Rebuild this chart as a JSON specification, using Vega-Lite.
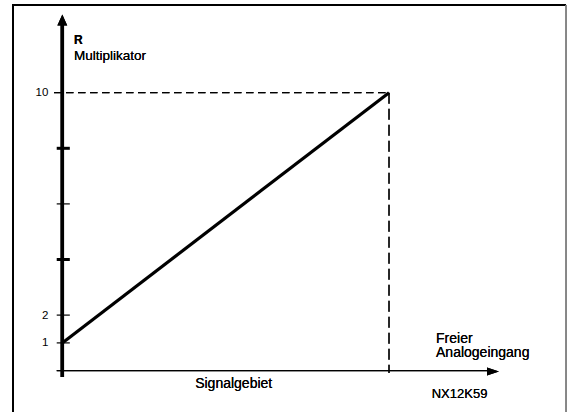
{
  "$schema": "https://vega.github.io/schema/vega-lite/v6.json",
  "width": 567,
  "height": 412,
  "padding": 0,
  "autosize": {"type": "none"},
  "background": "white",
  "config": {"view": {"stroke": null}, "text": {"font": "Liberation Sans", "color": "#000"}},
  "datasets": {
    "line": [{"signal": 0, "R": 1}, {"signal": 1, "R": 10}],
    "ticks": [{"R": 1, "major": false}, {"R": 2, "major": false}, {"R": 4, "major": true}, {"R": 6, "major": false}, {"R": 8, "major": true}],
    "ticklabels": [{"R": 10, "label": "10"}, {"R": 2, "label": "2"}, {"R": 1, "label": "1"}]
  },
  "data": {"name": "line"},
  "layer": [
    {
      "mark": {"type": "rule", "color": "#000", "strokeWidth": 2},
      "encoding": {
        "x": {"datum": -0.1509, "type": "quantitative", "scale": {"domain": [-0.1907, 1.5448], "nice": false, "zero": false}, "axis": null},
        "y": {"datum": -1.4856, "type": "quantitative", "scale": {"domain": [-1.4856, 13.3345], "nice": false, "zero": false}, "axis": null},
        "y2": {"datum": 13.19}
      }
    },
    {
      "mark": {"type": "rule", "color": "#000", "strokeWidth": 2},
      "encoding": {
        "x": {"datum": -0.1539, "type": "quantitative", "scale": {"domain": [-0.1907, 1.5448], "nice": false, "zero": false}, "axis": null},
        "x2": {"datum": 1.5418},
        "y": {"datum": 13.155, "type": "quantitative", "scale": {"domain": [-1.4856, 13.3345], "nice": false, "zero": false}, "axis": null}
      }
    },
    {
      "mark": {"type": "rule", "color": "#808080", "strokeWidth": 1.5},
      "encoding": {
        "x": {"datum": 1.5418, "type": "quantitative", "scale": {"domain": [-0.1907, 1.5448], "nice": false, "zero": false}, "axis": null},
        "y": {"datum": -1.4856, "type": "quantitative", "scale": {"domain": [-1.4856, 13.3345], "nice": false, "zero": false}, "axis": null},
        "y2": {"datum": 13.155}
      }
    },
    {
      "mark": {"type": "rule", "color": "#000", "strokeWidth": 1.2, "strokeDash": [7.5, 4.5]},
      "encoding": {
        "x": {"datum": -0.0254, "type": "quantitative", "scale": {"domain": [-0.1907, 1.5448], "nice": false, "zero": false}, "axis": null},
        "x2": {"datum": 1},
        "y": {"datum": 10, "type": "quantitative", "scale": {"domain": [-1.4856, 13.3345], "nice": false, "zero": false}, "axis": null}
      }
    },
    {
      "mark": {"type": "rule", "color": "#000", "strokeWidth": 1.2, "strokeDash": [11, 5]},
      "encoding": {
        "x": {"datum": 1, "type": "quantitative", "scale": {"domain": [-0.1907, 1.5448], "nice": false, "zero": false}, "axis": null},
        "y": {"datum": 10, "type": "quantitative", "scale": {"domain": [-1.4856, 13.3345], "nice": false, "zero": false}, "axis": null},
        "y2": {"datum": -0.083}
      }
    },
    {
      "mark": {"type": "line", "color": "#000", "strokeWidth": 3.2},
      "encoding": {
        "x": {"field": "signal", "type": "quantitative", "scale": {"domain": [-0.1907, 1.5448], "nice": false, "zero": false}, "axis": null},
        "y": {"field": "R", "type": "quantitative", "scale": {"domain": [-1.4856, 13.3345], "nice": false, "zero": false}, "axis": null}
      }
    },
    {
      "mark": {"type": "rule", "color": "#000", "strokeWidth": 3.5},
      "encoding": {
        "x": {"datum": 0, "type": "quantitative", "scale": {"domain": [-0.1907, 1.5448], "nice": false, "zero": false}, "axis": null},
        "y": {"datum": -0.2266, "type": "quantitative", "scale": {"domain": [-1.4856, 13.3345], "nice": false, "zero": false}, "axis": null},
        "y2": {"datum": 12.45}
      }
    },
    {
      "mark": {"type": "point", "shape": "M0,-1L-0.9,1L0.9,1Z", "size": 121, "filled": true, "color": "#000", "opacity": 1, "strokeWidth": 0},
      "encoding": {
        "x": {"datum": 0, "type": "quantitative", "scale": {"domain": [-0.1907, 1.5448], "nice": false, "zero": false}, "axis": null},
        "y": {"datum": 12.615, "type": "quantitative", "scale": {"domain": [-1.4856, 13.3345], "nice": false, "zero": false}, "axis": null}
      }
    },
    {
      "mark": {"type": "rule", "color": "#000", "strokeWidth": 1.3},
      "encoding": {
        "x": {"datum": -0.0171, "type": "quantitative", "scale": {"domain": [-0.1907, 1.5448], "nice": false, "zero": false}, "axis": null},
        "x2": {"datum": 1.309},
        "y": {"datum": 0, "type": "quantitative", "scale": {"domain": [-1.4856, 13.3345], "nice": false, "zero": false}, "axis": null}
      }
    },
    {
      "mark": {"type": "point", "shape": "M1,0L-1,-0.667L-1,0.667Z", "size": 144, "filled": true, "color": "#000", "opacity": 1, "strokeWidth": 0},
      "encoding": {
        "x": {"datum": 1.3183, "type": "quantitative", "scale": {"domain": [-0.1907, 1.5448], "nice": false, "zero": false}, "axis": null},
        "y": {"datum": -0.03, "type": "quantitative", "scale": {"domain": [-1.4856, 13.3345], "nice": false, "zero": false}, "axis": null}
      }
    },
    {
      "data": {"name": "ticks"},
      "transform": [{"filter": "datum.major"}],
      "mark": {"type": "rule", "color": "#000", "strokeWidth": 3},
      "encoding": {
        "x": {"datum": -0.0171, "type": "quantitative", "scale": {"domain": [-0.1907, 1.5448], "nice": false, "zero": false}, "axis": null},
        "x2": {"datum": 0.023},
        "y": {"field": "R", "type": "quantitative", "scale": {"domain": [-1.4856, 13.3345], "nice": false, "zero": false}, "axis": null}
      }
    },
    {
      "data": {"name": "ticks"},
      "transform": [{"filter": "!datum.major"}],
      "mark": {"type": "rule", "color": "#000", "strokeWidth": 1.2},
      "encoding": {
        "x": {"datum": -0.0171, "type": "quantitative", "scale": {"domain": [-0.1907, 1.5448], "nice": false, "zero": false}, "axis": null},
        "x2": {"datum": 0.023},
        "y": {"field": "R", "type": "quantitative", "scale": {"domain": [-1.4856, 13.3345], "nice": false, "zero": false}, "axis": null}
      }
    },
    {
      "data": {"name": "ticklabels"},
      "mark": {"type": "text", "align": "right", "baseline": "middle", "fontSize": 11.5, "dy": 0.5},
      "encoding": {
        "x": {"datum": -0.0429, "type": "quantitative", "scale": {"domain": [-0.1907, 1.5448], "nice": false, "zero": false}, "axis": null},
        "y": {"field": "R", "type": "quantitative", "scale": {"domain": [-1.4856, 13.3345], "nice": false, "zero": false}, "axis": null},
        "text": {"field": "label"}
      }
    },
    {
      "mark": {"type": "text", "align": "left", "baseline": "alphabetic", "fontSize": 12, "fontWeight": "bold"},
      "encoding": {
        "x": {"datum": 0.0358, "type": "quantitative", "scale": {"domain": [-0.1907, 1.5448], "nice": false, "zero": false}, "axis": null},
        "y": {"datum": 11.734, "type": "quantitative", "scale": {"domain": [-1.4856, 13.3345], "nice": false, "zero": false}, "axis": null},
        "text": {"value": "R"}
      }
    },
    {
      "mark": {"type": "text", "align": "left", "baseline": "alphabetic", "fontSize": 13.5},
      "encoding": {
        "x": {"datum": 0.0358, "type": "quantitative", "scale": {"domain": [-0.1907, 1.5448], "nice": false, "zero": false}, "axis": null},
        "y": {"datum": 11.194, "type": "quantitative", "scale": {"domain": [-1.4856, 13.3345], "nice": false, "zero": false}, "axis": null},
        "text": {"value": "Multiplikator"}
      }
    },
    {
      "mark": {"type": "text", "align": "center", "baseline": "alphabetic", "fontSize": 14},
      "encoding": {
        "x": {"datum": 0.5246, "type": "quantitative", "scale": {"domain": [-0.1907, 1.5448], "nice": false, "zero": false}, "axis": null},
        "y": {"datum": -0.633, "type": "quantitative", "scale": {"domain": [-1.4856, 13.3345], "nice": false, "zero": false}, "axis": null},
        "text": {"value": "Signalgebiet"}
      }
    },
    {
      "mark": {"type": "text", "align": "left", "baseline": "alphabetic", "fontSize": 14},
      "encoding": {
        "x": {"datum": 1.1439, "type": "quantitative", "scale": {"domain": [-0.1907, 1.5448], "nice": false, "zero": false}, "axis": null},
        "y": {"datum": 1.007, "type": "quantitative", "scale": {"domain": [-1.4856, 13.3345], "nice": false, "zero": false}, "axis": null},
        "text": {"value": "Freier"}
      }
    },
    {
      "mark": {"type": "text", "align": "left", "baseline": "alphabetic", "fontSize": 14},
      "encoding": {
        "x": {"datum": 1.1439, "type": "quantitative", "scale": {"domain": [-0.1907, 1.5448], "nice": false, "zero": false}, "axis": null},
        "y": {"datum": 0.482, "type": "quantitative", "scale": {"domain": [-1.4856, 13.3345], "nice": false, "zero": false}, "axis": null},
        "text": {"value": "Analogeingang"}
      }
    },
    {
      "mark": {"type": "text", "align": "left", "baseline": "alphabetic", "fontSize": 13},
      "encoding": {
        "x": {"datum": 1.1307, "type": "quantitative", "scale": {"domain": [-0.1907, 1.5448], "nice": false, "zero": false}, "axis": null},
        "y": {"datum": -0.971, "type": "quantitative", "scale": {"domain": [-1.4856, 13.3345], "nice": false, "zero": false}, "axis": null},
        "text": {"value": "NX12K59"}
      }
    }
  ]
}
